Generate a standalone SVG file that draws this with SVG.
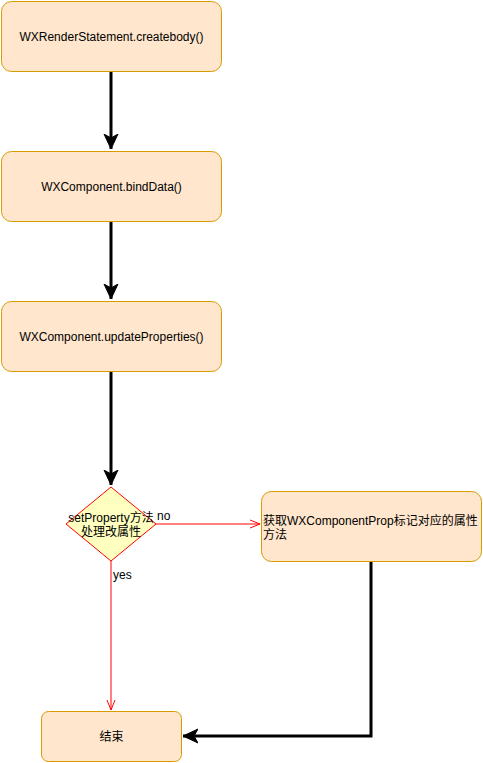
<svg xmlns="http://www.w3.org/2000/svg" width="483" height="763" viewBox="0 0 483 763">
<style>
.box{fill:#ffe6cc;stroke:#d79b00;stroke-width:1}
.t{font-family:"Liberation Sans","Noto Sans CJK SC",sans-serif;font-size:12px;fill:#000}
.thick{fill:none;stroke:#000;stroke-width:3}
.red{fill:none;stroke:#ff0000;stroke-width:1}
</style>
<defs>
<marker id="blk" markerUnits="userSpaceOnUse" viewBox="0 0 16 16" refX="15" refY="8" markerWidth="16" markerHeight="16" orient="auto">
<path d="M0,1 L15,8 L0,15 L4,8 Z" fill="#000" stroke="#000" stroke-width="1"/>
</marker>
<marker id="open" markerUnits="userSpaceOnUse" viewBox="0 0 10 10" refX="10" refY="5" markerWidth="10" markerHeight="10" orient="auto">
<path d="M0,1 L10,5 L0,9" fill="none" stroke="#ff0000" stroke-width="1"/>
</marker>
</defs>
<g id="connectors">
<line class="thick" x1="111" y1="71" x2="111" y2="149" marker-end="url(#blk)"/>
<line class="thick" x1="111" y1="221" x2="111" y2="299" marker-end="url(#blk)"/>
<line class="thick" x1="111" y1="371" x2="111" y2="485" marker-end="url(#blk)"/>
<polyline class="thick" points="371,561 371,736 183,736" marker-end="url(#blk)"/>
<line class="red" x1="156" y1="524" x2="260" y2="524" marker-end="url(#open)"/>
<line class="red" x1="111" y1="561" x2="111" y2="710" marker-end="url(#open)"/>
<text class="t" x="157" y="520">no</text>
<text class="t" x="113" y="579">yes</text>
</g>
<g id="n1">
<rect class="box" x="1.5" y="1.5" width="220" height="70" rx="10"/>
<text class="t" x="111.5" y="40.5" text-anchor="middle">WXRenderStatement.createbody()</text>
</g>
<g id="n2">
<rect class="box" x="1.5" y="151.5" width="220" height="70" rx="10"/>
<text class="t" x="111.5" y="190.5" text-anchor="middle">WXComponent.bindData()</text>
</g>
<g id="n3">
<rect class="box" x="1.5" y="301.5" width="220" height="70" rx="10"/>
<text class="t" x="111.5" y="340.5" text-anchor="middle">WXComponent.updateProperties()</text>
</g>
<g id="n4">
<polygon points="111,487 156,524 111,561 66,524" fill="#ffffc0" stroke="#ff0000" stroke-width="1"/>
<text class="t" x="111" y="522" text-anchor="middle">setProperty方法</text>
<text class="t" x="111" y="536" text-anchor="middle">处理改属性</text>
</g>
<g id="n5">
<rect class="box" x="261.5" y="491.5" width="220" height="70" rx="10"/>
<text class="t" x="263" y="525">获取WXComponentProp标记对应的属性</text>
<text class="t" x="263" y="539">方法</text>
</g>
<g id="n6">
<rect class="box" x="41.5" y="711.5" width="140" height="50" rx="7"/>
<text class="t" x="111.5" y="740.5" text-anchor="middle">结束</text>
</g>
</svg>
